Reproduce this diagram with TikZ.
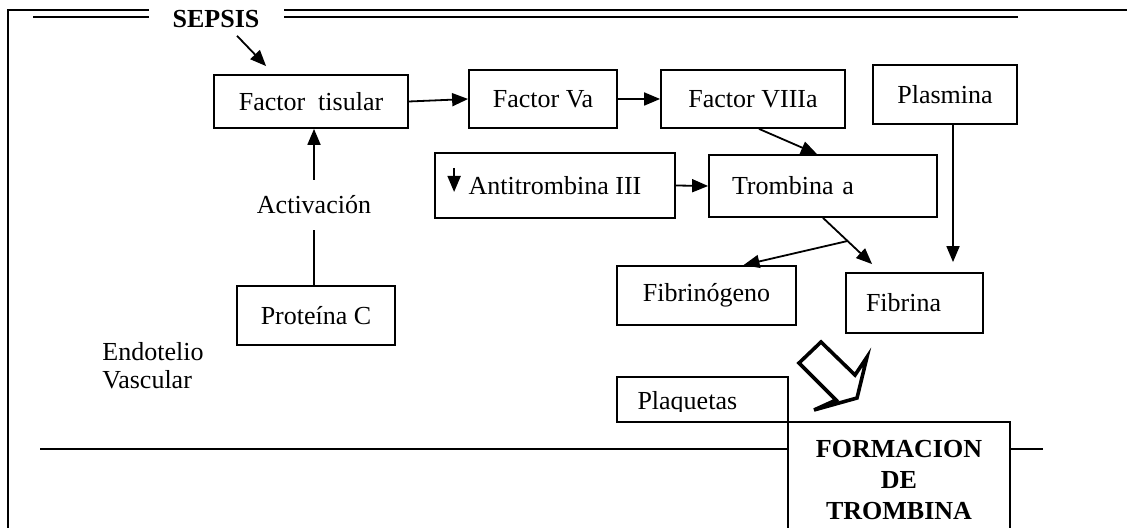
\documentclass[tikz,border=0pt]{standalone}
\usepackage{fontspec}
\setmainfont{Liberation Serif}
\usetikzlibrary{arrows.meta,calc,positioning}

\tikzset{
    caja/.style={draw, line width=0.9pt, inner sep=0pt, align=center},
    flecha/.style={line width=0.9pt, -{Triangle[length=8pt,width=6.5pt]}},
    linea/.style={line width=0.9pt}
}

\begin{document}
\begin{tikzpicture}[x=0.5pt, y=-0.5pt, font=\fontsize{13}{15.5}\selectfont]
            \clip (0,0) rectangle (1127,528);

            %marco
            \draw[linea] (8,560) -- (8,10) -- (1140,10);
            \draw[linea] (33,17) -- (1018,17);
            \node[fill=white, minimum width=67.5pt, font=\fontsize{13}{15.5}\selectfont\bfseries] (sepsis) at (216,19) {SEPSIS};

            %cajas
            \node[caja, minimum width=97pt, minimum height=26.5pt] (tisular) at (311,101.5) {Factor~ tisular};
            \node[caja, minimum width=74pt, minimum height=29pt] (va) at (543,99) {Factor Va};
            \node[caja, minimum width=92pt, minimum height=29pt] (viii) at (753,99) {Factor VIIIa};
            \node[caja, minimum width=72pt, minimum height=29.5pt] (plasmina) at (945,94.5) {Plasmina};
            \node[caja, minimum width=120pt, minimum height=32.5pt] (anti) at (555,185.5) {Antitrombina III};
            \node[caja, align=left, text width=91pt, inner xsep=11.5pt, minimum height=31pt] (trombina) at (823,186) {Trombina a};
            \node[caja, minimum width=89.5pt, minimum height=29.5pt] (fibrinogeno) at (706.5,295.5) {Fibrinógeno};
            \node[caja, align=left, text width=48.5pt, inner xsep=10pt, minimum height=30pt] (fibrina) at (914.5,303) {Fibrina};
            \node[caja, minimum width=79pt, minimum height=29.5pt] (proteina) at (316,315.5) {Proteína C};
            \node[caja, minimum width=85.5pt, minimum height=22.5pt] (plaquetas) at (702.5,399.5) {};
            \node[caja, fill=white, minimum width=111pt, minimum height=58pt, font=\fontsize{13}{15.5}\selectfont\bfseries] (formacion) at (899,480) {FORMACION\\DE\\TROMBINA};

            \node[align=left, anchor=west, inner sep=0pt, font=\fontsize{13}{14}\selectfont] (endotelio) at (102,366) {Endotelio\\Vascular};
            \node[minimum height=25pt, inner sep=0pt] (activacion) at (314,205) {Activación};

            %texto recortado
            \begin{scope}
                \clip (plaquetas.north west) rectangle ($(plaquetas.east)+(0,11.5)$);
                \node[anchor=base west, inner sep=0pt] (plaqtexto) at ($(plaquetas.west)+(21,9.5)$) {Plaquetas};
            \end{scope}

            %flechas
            \draw[flecha] ($(sepsis.south)+(21,1)$) -- ($(tisular.north west)+(53,-8)$);
            \draw[flecha] (tisular.east) -- (va.west);
            \draw[flecha] (va.east) -- (viii.west);
            \draw[flecha] ($(viii.south)+(6,0)$) -- ($(trombina.north)+(-6,0)$);
            \draw[flecha] (anti.east) -- (trombina.west);
            \draw[flecha] (trombina.south) -- coordinate[pos=0.5] (rama) ($(fibrina.north west)+(27,-8)$);
            \draw[flecha] (rama) -- ($(fibrinogeno.north)+(37,0)$);
            \draw[flecha] ($(plasmina.south)+(8,0)$) -- ($(fibrina.north)+(38.5,-10)$);
            \draw[flecha] ($(anti.west)+(20,-17.5)$) -- ($(anti.west)+(20,6.5)$);
            \draw[linea] (activacion.south) -- (activacion.south |- proteina.north);
            \draw[flecha] (activacion.north) -- (activacion.north |- tisular.south);

            %linea base
            \coordinate (base) at (40,449);
            \draw[linea] (base) -- (base -| formacion.west);
            \draw[linea] (base -| formacion.east) -- ++(32,0);

            %flecha gruesa
            \draw[line width=1.8pt] (821,342) -- (855,375) -- (867,357) -- (857,398) -- (814,410) -- (836,400) -- (799,363) -- cycle;
        \end{tikzpicture}
\end{document}
